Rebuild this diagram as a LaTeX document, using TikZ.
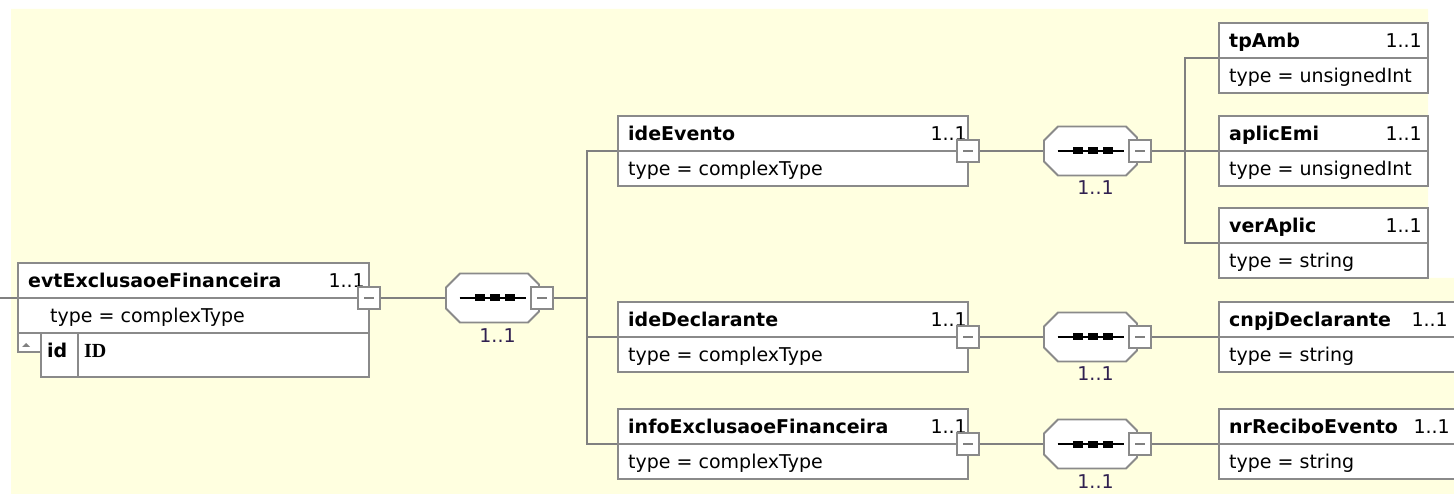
\documentclass[tikz,border=0pt]{standalone}
\usepackage{fontspec}
\setmainfont{DejaVu Sans}
\newfontfamily\idserif{Liberation Serif}
\usetikzlibrary{backgrounds}
\definecolor{bgyellow}{RGB}{255,255,224}
\definecolor{edgegray}{RGB}{138,138,138}
\definecolor{wiregray}{RGB}{128,128,128}
\definecolor{seqcard}{RGB}{48,32,80}
\tikzset{
  rowbox/.style={draw=edgegray, fill=white, line width=1.8pt, inner sep=0pt, outer sep=0pt, anchor=north west, minimum height=35pt},
  nametxt/.style={font=\fontsize{19}{22}\selectfont\bfseries, inner sep=0pt, anchor=base west},
  cardtxt/.style={font=\fontsize{19}{22}\selectfont, inner sep=0pt, anchor=base east},
  typetxt/.style={font=\fontsize{19}{22}\selectfont, inner sep=0pt, anchor=base west},
  minusbox/.style={draw=edgegray, fill=white, line width=1.5pt, minimum size=22pt, inner sep=0pt, outer sep=0pt},
  wire/.style={draw=wiregray, line width=1.7pt},
  seqframe/.style={minimum width=93pt, minimum height=49pt, inner sep=0pt, outer sep=0pt},
  seqedge/.style={draw=edgegray, fill=white, line width=1.8pt},
  seqcardtxt/.style={font=\fontsize{19}{22}\selectfont, text=seqcard, inner sep=0pt, anchor=base},
}
\newcommand{\minusmark}[1]{\draw[wiregray, line width=1.2pt] ([xshift=-5pt]#1.center) -- ([xshift=5pt]#1.center);}
\newcommand{\mkel}[7]{%
  \node[rowbox, minimum width=#4pt] (#1h) at (#2,#3) {};
  \node[rowbox, minimum width=#4pt] (#1t) at (#1h.south west) {};
  \node[nametxt] (#1n) at ([xshift=10pt,yshift=-24.5pt]#1h.north west) {#5};
  \node[cardtxt] (#1c) at ([xshift=-#7pt,yshift=-24.5pt]#1h.north east) {1..1};
  \node[typetxt] (#1y) at ([xshift=10pt,yshift=-24.5pt]#1t.north west) {#6};
}
\newcommand{\mkseq}[3]{%
  \node[seqframe] (#1) at (#2,#3) {};
  \draw[seqedge] ([xshift=14pt]#1.north west) -- ([xshift=-11pt]#1.north east) -- ([yshift=-11pt]#1.north east) -- ([yshift=11pt]#1.south east) -- ([xshift=-11pt]#1.south east) -- ([xshift=14pt]#1.south west) -- ([yshift=14pt]#1.south west) -- ([yshift=-14pt]#1.north west) -- cycle;
  \draw[black, line width=1.5pt] ([xshift=-33pt]#1.center) -- ([xshift=33pt]#1.center);
  \foreach \dx in {-13,2,17} {\fill[black] ([xshift=\dx pt-5pt, yshift=-3.5pt]#1.center) rectangle ([xshift=\dx pt+5pt, yshift=3.5pt]#1.center);}
  \node[minusbox] (#1m) at ([xshift=3pt]#1.east) {};
  \minusmark{#1m}
  \node[seqcardtxt] (#1k) at ([xshift=5pt,yshift=-19.5pt]#1.south) {1..1};
}
\begin{document}
\begin{tikzpicture}[x=1pt,y=-1pt]
\useasboundingbox (0,0) rectangle (1454,494);
% root element
\node[rowbox, minimum width=351pt] (rooth) at (18,263) {};
\node[rowbox, minimum width=351pt] (roott) at (rooth.south west) {};
\node[rowbox, minimum width=37pt, minimum height=44pt] (rootid) at (41,333) {};
\node[rowbox, minimum width=291pt, minimum height=44pt] (rootID) at (78,333) {};
\node[rowbox, minimum width=23pt, minimum height=19pt] (rooticon) at (18,333) {};
\fill[wiregray] ([xshift=-7.5pt,yshift=-4.5pt]rooticon.center) -- ([xshift=0.5pt,yshift=-4.5pt]rooticon.center) -- ([xshift=-3.5pt,yshift=-0.5pt]rooticon.center) -- cycle;
\node[nametxt] (rootn) at (28,287.5) {evtExclusaoeFinanceira};
\node[cardtxt] (rootc) at (365,287.5) {1..1};
\node[typetxt] (rooty) at (50,322.5) {type = complexType};
\node[nametxt] (rootidt) at (47,357) {id};
\node[nametxt, font=\fontsize{20}{22}\selectfont\idserif\bfseries] (rootIDt) at (84,357) {ID};
\node[minusbox] (rootm) at (rooth.south east) {};
\minusmark{rootm}
% sequence 1
\mkseq{sa}{492.5}{298}
% middle elements
\mkel{ev}{618}{116}{350}{ideEvento}{type = complexType}{1}
\mkel{dc}{618}{302}{350}{ideDeclarante}{type = complexType}{1}
\mkel{ie}{618}{409}{350}{infoExclusaoeFinanceira}{type = complexType}{1}
\node[minusbox] (evm) at (evh.south east) {}; \minusmark{evm}
\node[minusbox] (dcm) at (dch.south east) {}; \minusmark{dcm}
\node[minusbox] (iem) at (ieh.south east) {}; \minusmark{iem}
% sequences 2-4
\mkseq{sb}{1090.5}{151}
\mkseq{sc}{1090.5}{337}
\mkseq{sd}{1090.5}{444}
% right elements
\mkel{tp}{1219}{23}{209}{tpAmb}{type = unsignedInt}{6}
\mkel{ap}{1219}{116}{209}{aplicEmi}{type = unsignedInt}{6}
\mkel{va}{1219}{208}{209}{verAplic}{type = string}{6}
\mkel{cn}{1219}{302}{260}{cnpjDeclarante}{type = string}{31}
\mkel{nr}{1219}{409}{260}{nrReciboEvento}{type = string}{29}
% background and wires
\begin{pgfonlayer}{background}
\fill[bgyellow] (11,9) -- (1428,9) -- (1428,278) -- (1454,278) -- (1454,494) -- (11,494) -- cycle;
\coordinate (rootin) at (0,298);
\coordinate (bus1x) at (587,0);
\coordinate (bus2x) at (1185,0);
\draw[wire] (rootin) -- (rooth.south west);
\draw[wire] (rootm.east) -- (sa.west);
\draw[wire] (sam.east) -- (sam.east -| bus1x);
\draw[wire] (evh.south west) -- (evh.south west -| bus1x) |- (ieh.south west);
\draw[wire] (dch.south west) -- (dch.south west -| bus1x);
\draw[wire] (evm.east) -- (sb.west);
\draw[wire] (sbm.east) -- (aph.south west);
\draw[wire] (tph.south west) -- (tph.south west -| bus2x) |- (vah.south west);
\draw[wire] (dcm.east) -- (sc.west);
\draw[wire] (scm.east) -- (cnh.south west);
\draw[wire] (iem.east) -- (sd.west);
\draw[wire] (sdm.east) -- (nrh.south west);
\end{pgfonlayer}
\end{tikzpicture}
\end{document}
